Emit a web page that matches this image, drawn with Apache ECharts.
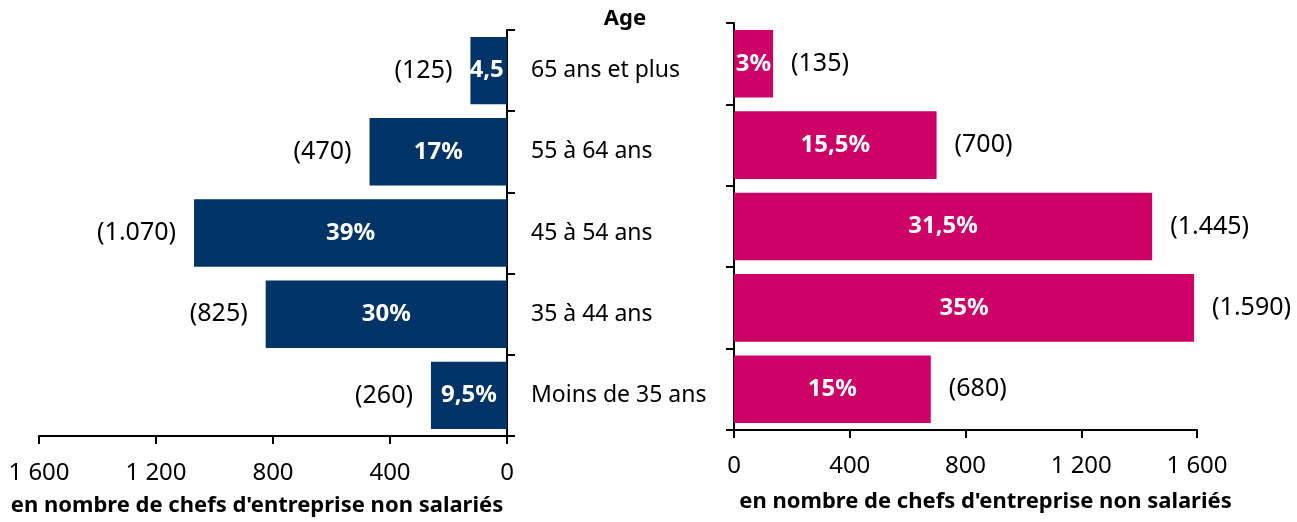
<!DOCTYPE html>
<html>
<head>
<meta charset="utf-8">
<script src="https://cdn.jsdelivr.net/npm/echarts@6/dist/echarts.min.js"></script>
<style>
  html, body { margin: 0; padding: 0; background: #fff; }
  #chart { width: 1297px; height: 522px; }
</style>
</head>
<body>
<div id="chart"></div>
<script>
// categories, top to bottom
const ageGroups = ["65 ans et plus", "55 à 64 ans", "45 à 54 ans", "35 à 44 ans", "Moins de 35 ans"];
// left panel (navy)
const leftCounts = [125, 470, 1070, 825, 260];
const leftShares = [4.5, 17, 39, 30, 9.5];
// right panel (magenta)
const rightCounts = [135, 700, 1445, 1590, 680];
const rightShares = [3, 15.5, 31.5, 35, 15];
const xTicks = [0, 400, 800, 1200, 1600];

const FONT = '"Noto Sans", "Liberation Sans", sans-serif';
const NAVY = "#003366";
const MAGENTA = "#cc0066";
const axisName = "en nombre de chefs d'entreprise non salariés";

const fmtThousands = (v) => String(v).replace(/\B(?=(\d{3})+(?!\d))/g, " ");
const fmtCount = (v) => "(" + String(v).replace(/\B(?=(\d{3})+(?!\d))/g, ".") + ")";
const fmtShare = (v) => String(v).replace(".", ",") + "%";

const axisLine = { lineStyle: { color: "#000", width: 2 } };
const tick = { show: true, length: 8, lineStyle: { color: "#000", width: 2 } };
const nameStyle = { fontSize: 22, fontWeight: "bold", color: "#000", fontFamily: FONT };

// share label sits inside the bar; on a very short bar it gets clipped like in the original
const shareItems = (counts, shares) => counts.map((c, i) => {
  const item = { value: c, share: shares[i] };
  if (c < 130) item.label = { position: "insideLeft", offset: [-6, 0], width: 44, overflow: "truncate", ellipsis: "" };
  return item;
});

const chart = echarts.init(document.getElementById("chart"));
chart.setOption({
  animation: false,
  textStyle: { fontFamily: FONT },
  title: {
    text: "Age",
    left: 620,
    top: 3,
    textAlign: "center",
    textStyle: { fontFamily: FONT, fontSize: 22, fontWeight: "bold", color: "#000" },
  },
  grid: [
    { left: 39, right: 790, top: 30, bottom: 85 },
    { left: 734, right: 100, top: 23, bottom: 92 },
  ],
  xAxis: [
    {
      gridIndex: 0, type: "value", inverse: true, min: xTicks[0], max: xTicks[xTicks.length - 1], interval: 400,
      axisLine: { show: true, ...axisLine }, axisTick: tick,
      axisLabel: { margin: 25, fontSize: 24, color: "#000", fontFamily: FONT, formatter: fmtThousands },
      splitLine: { show: false },
      name: axisName, nameLocation: "middle", nameGap: 59,
      nameTextStyle: { ...nameStyle, padding: [0, 32, 0, 0] },
    },
    {
      gridIndex: 1, type: "value", min: xTicks[0], max: xTicks[xTicks.length - 1], interval: 400,
      axisLine: { show: true, ...axisLine }, axisTick: tick,
      axisLabel: { margin: 24, fontSize: 24, color: "#000", fontFamily: FONT, formatter: fmtThousands },
      splitLine: { show: false },
      name: axisName, nameLocation: "middle", nameGap: 61,
      nameTextStyle: { ...nameStyle, padding: [0, 0, 0, 40] },
    },
  ],
  yAxis: [
    {
      gridIndex: 0, type: "category", data: ageGroups, inverse: true, position: "right",
      axisLine: axisLine, axisTick: tick,
      axisLabel: { margin: 24, align: "left", fontSize: 23, color: "#000", fontFamily: FONT },
    },
    {
      gridIndex: 1, type: "category", data: ageGroups, inverse: true, position: "left",
      axisLine: axisLine, axisTick: tick,
      axisLabel: { show: false },
    },
  ],
  series: [
    {
      type: "bar", xAxisIndex: 0, yAxisIndex: 0, data: shareItems(leftCounts, leftShares),
      barCategoryGap: "17%",
      itemStyle: { color: NAVY },
      label: {
        show: true, position: "inside", color: "#fff", fontSize: 24, fontWeight: "bold", fontFamily: FONT,
        formatter: (p) => fmtShare(p.data.share),
      },
    },
    {
      type: "bar", xAxisIndex: 0, yAxisIndex: 0, data: leftCounts, barGap: "-100%", barCategoryGap: "17%",
      silent: true, itemStyle: { color: "rgba(0,0,0,0)" },
      label: {
        show: true, position: "outside", distance: 18, color: "#000", fontSize: 25, fontFamily: FONT,
        formatter: (p) => fmtCount(p.value),
      },
    },
    {
      type: "bar", xAxisIndex: 1, yAxisIndex: 1, data: rightShares.map((s, i) => ({ value: rightCounts[i], share: s })),
      barCategoryGap: "17%",
      itemStyle: { color: MAGENTA },
      label: {
        show: true, position: "inside", color: "#fff", fontSize: 24, fontWeight: "bold", fontFamily: FONT,
        formatter: (p) => fmtShare(p.data.share),
      },
    },
    {
      type: "bar", xAxisIndex: 1, yAxisIndex: 1, data: rightCounts, barGap: "-100%", barCategoryGap: "17%",
      silent: true, itemStyle: { color: "rgba(0,0,0,0)" },
      label: {
        show: true, position: "outside", distance: 18, color: "#000", fontSize: 25, fontFamily: FONT,
        formatter: (p) => fmtCount(p.value),
      },
    },
  ],
});
</script>
</body>
</html>
